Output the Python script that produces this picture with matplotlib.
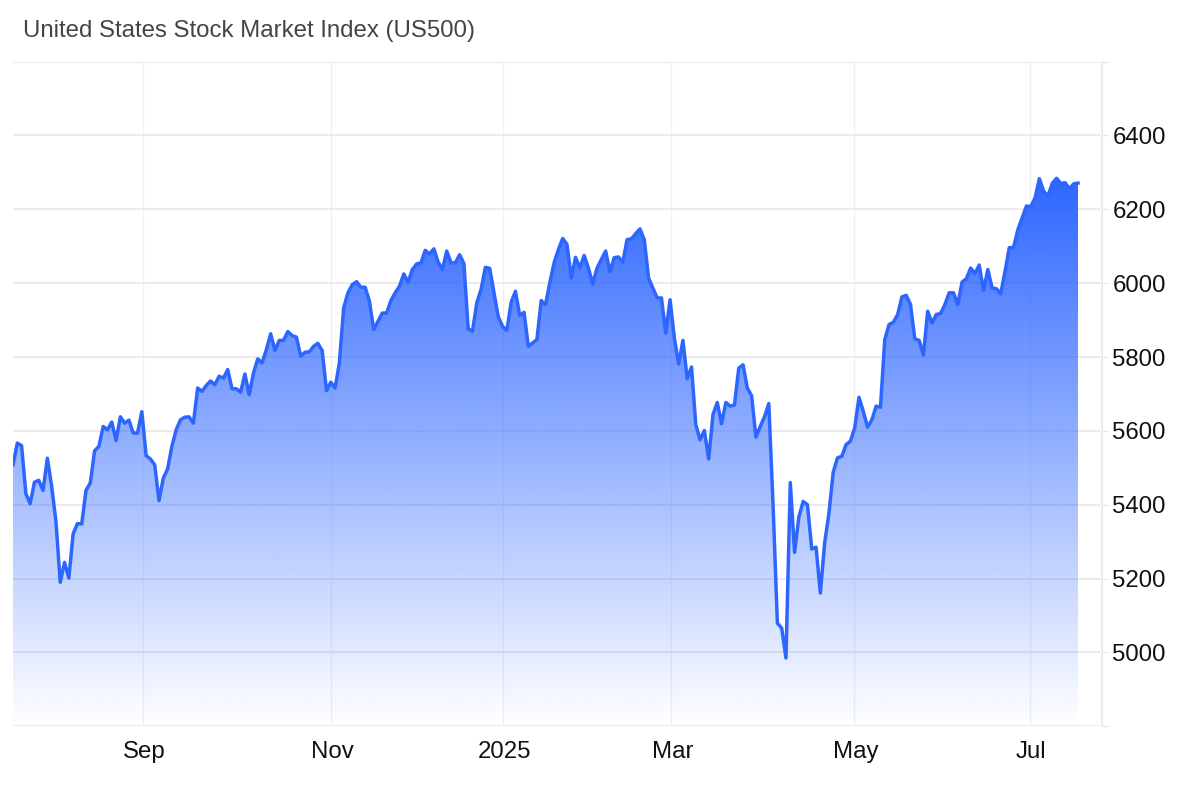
import numpy as np
import matplotlib
matplotlib.use("Agg")
import matplotlib.pyplot as plt
from matplotlib.patches import Polygon
from matplotlib.transforms import ScaledTranslation

TITLE = "United States Stock Market Index (US500)"
part_2024_a = [5508,5567,5560,5430,5403,5461,5466,5439,5526,5450,5355,5190,5244,5201,5321,5349,5348,5439,5459,5546,
               5558,5612,5603,5624,5574,5638,5621,5629,5594,5594,5652,5533,5524,5508,5411,5472,5497,5558,5603,5630,
               5637,5638,5621,5716,5707,5723,5735,5725,5748,5743,5766,5714,5714,5705,5754,5698,5757,5795,5784,5820,
               5863,5818,5845,5845,5869,5858,5854,5802,5813,5814,5829,5837,5817,5709,5732]
part_2024_b = [5716,5784,5933,5974,5996,6004,5989,5989,5951,5874,5897,5919,5919,5953,5974,5992,6025,6003,6037,6052,
               6055,6089,6079,6093,6057,6037,6087,6055,6055,6077,6053,5876,5870,5947,5983,6043,6040,5974,5909,5883,
               5872,5948,5978,5913,5921,5829,5838,5847,5953,5942,6001,6055,6091,6121,6105,6014,6070,6041,6075,6041,
               5998,6041,6064,6087,6031,6069,6071,6057,6118,6120,6134,6147,6118,6014,5987,5960,5960,5865]
part_2025_a = [5955,5852,5781,5845,5741,5773,5617,5576,5601,5524,5644,5677,5619,5677,5667,5670,5770,5779,5716,5695,
               5583,5612,5638,5674,5396,5079,5066,4985,5460,5271,5367,5409,5400,5280,5285,5161,5296,5377,5488,5527,
               5531,5563,5572,5608,5691,5653,5610,5630,5667,5664,5847,5888,5894,5915]
part_2025_b = [5963,5967,5942,5849,5845,5805,5924,5892,5915,5918,5942,5974,5974,5942,6003,6012,6041,6026,6049,5980,
               6037,5987,5985,5971,6032,6096,6097,6145,6177,6209,6207,6231,6283,6249,6236,6270,6284,6270,6272,6256,
               6269,6271]
values = part_2024_a + part_2024_b + part_2025_a + part_2025_b
month_labels = ["Sep", "Nov", "2025", "Mar", "May", "Jul"]
month_pos = [30.3, 74.1, 114.1, 153.2, 195.8, 236.8]
y_ticks = [4800, 5000, 5200, 5400, 5600, 5800, 6000, 6200, 6400, 6600]
y_labels = ["", "5000", "5200", "5400", "5600", "5800", "6000", "6200", "6400", ""]

W, H = 1200, 787
L, R, T, B = 13, 1099.5, 61.6, 726.3
LINE = "#2d66ff"
GRID = "#e6e6e6"
TEXT = "#111111"
FONT = ["Liberation Sans", "DejaVu Sans"]

fig = plt.figure(figsize=(W / 100, H / 100), dpi=100, facecolor="white")
ax = fig.add_axes([L / W, 1 - B / H, (R - L) / W, (B - T) / H])

n = len(values)
x = np.arange(n)
step = (1078 - 13) / (n - 1)
xmax = (R - L) / step
ylo, yhi = 4800, 6600

ax.set_axisbelow(True)
ax.grid(axis="y", color=GRID, lw=1.1, zorder=0)
ax.grid(axis="x", color="#edf1f6", lw=1.0, zorder=0)

# gradient fill clipped to the area under the line
rows = 400
alpha = np.linspace(1.0, 0.0, rows)
rgb = matplotlib.colors.to_rgb("#2d66ff")
img = np.zeros((rows, 2, 4))
img[..., 0], img[..., 1], img[..., 2] = rgb
img[..., 3] = alpha[:, None]
top = max(values)
im = ax.imshow(img, extent=(0, n - 1, ylo, top), origin="upper", aspect="auto",
               interpolation="bilinear", zorder=1)
poly = Polygon(list(zip(x, values)) + [(n - 1, ylo), (0, ylo)], closed=True,
               transform=ax.transData, facecolor="none", edgecolor="none")
ax.add_patch(poly)
im.set_clip_path(poly)

ax.plot(x, values, color=LINE, lw=2.5, solid_joinstyle="round", zorder=2)

ax.set_xlim(0, xmax)
ax.set_ylim(ylo, yhi)
ax.set_xticks(month_pos)
ax.set_xticklabels(month_labels, fontsize=17.3, family=FONT, color=TEXT)
ax.tick_params(axis="x", length=0, pad=10.5)
shift = ScaledTranslation(1.5 / 100, 0, fig.dpi_scale_trans)
for lab in ax.get_xticklabels():
    lab.set_transform(lab.get_transform() + shift)

ax.yaxis.tick_right()
ax.set_yticks(y_ticks)
ax.set_yticklabels(y_labels)
ax.tick_params(axis="y", length=4.5, width=1.0, color=GRID, pad=3,
               labelsize=17.3, labelcolor=TEXT, labelfontfamily="Liberation Sans")
for g in ax.get_ygridlines():
    g.set_clip_on(False)

for s in ["top", "left", "bottom"]:
    ax.spines[s].set_visible(False)
ax.spines["right"].set_position(("outward", 1.8))
ax.spines["right"].set_color(GRID)
ax.spines["right"].set_linewidth(1.1)

fig.text(23 / W, 1 - 31.5 / H, TITLE, fontsize=17.3, family=FONT, color="#444444",
         ha="left", va="center")

fig.savefig("out.png", dpi=100, facecolor="white")
